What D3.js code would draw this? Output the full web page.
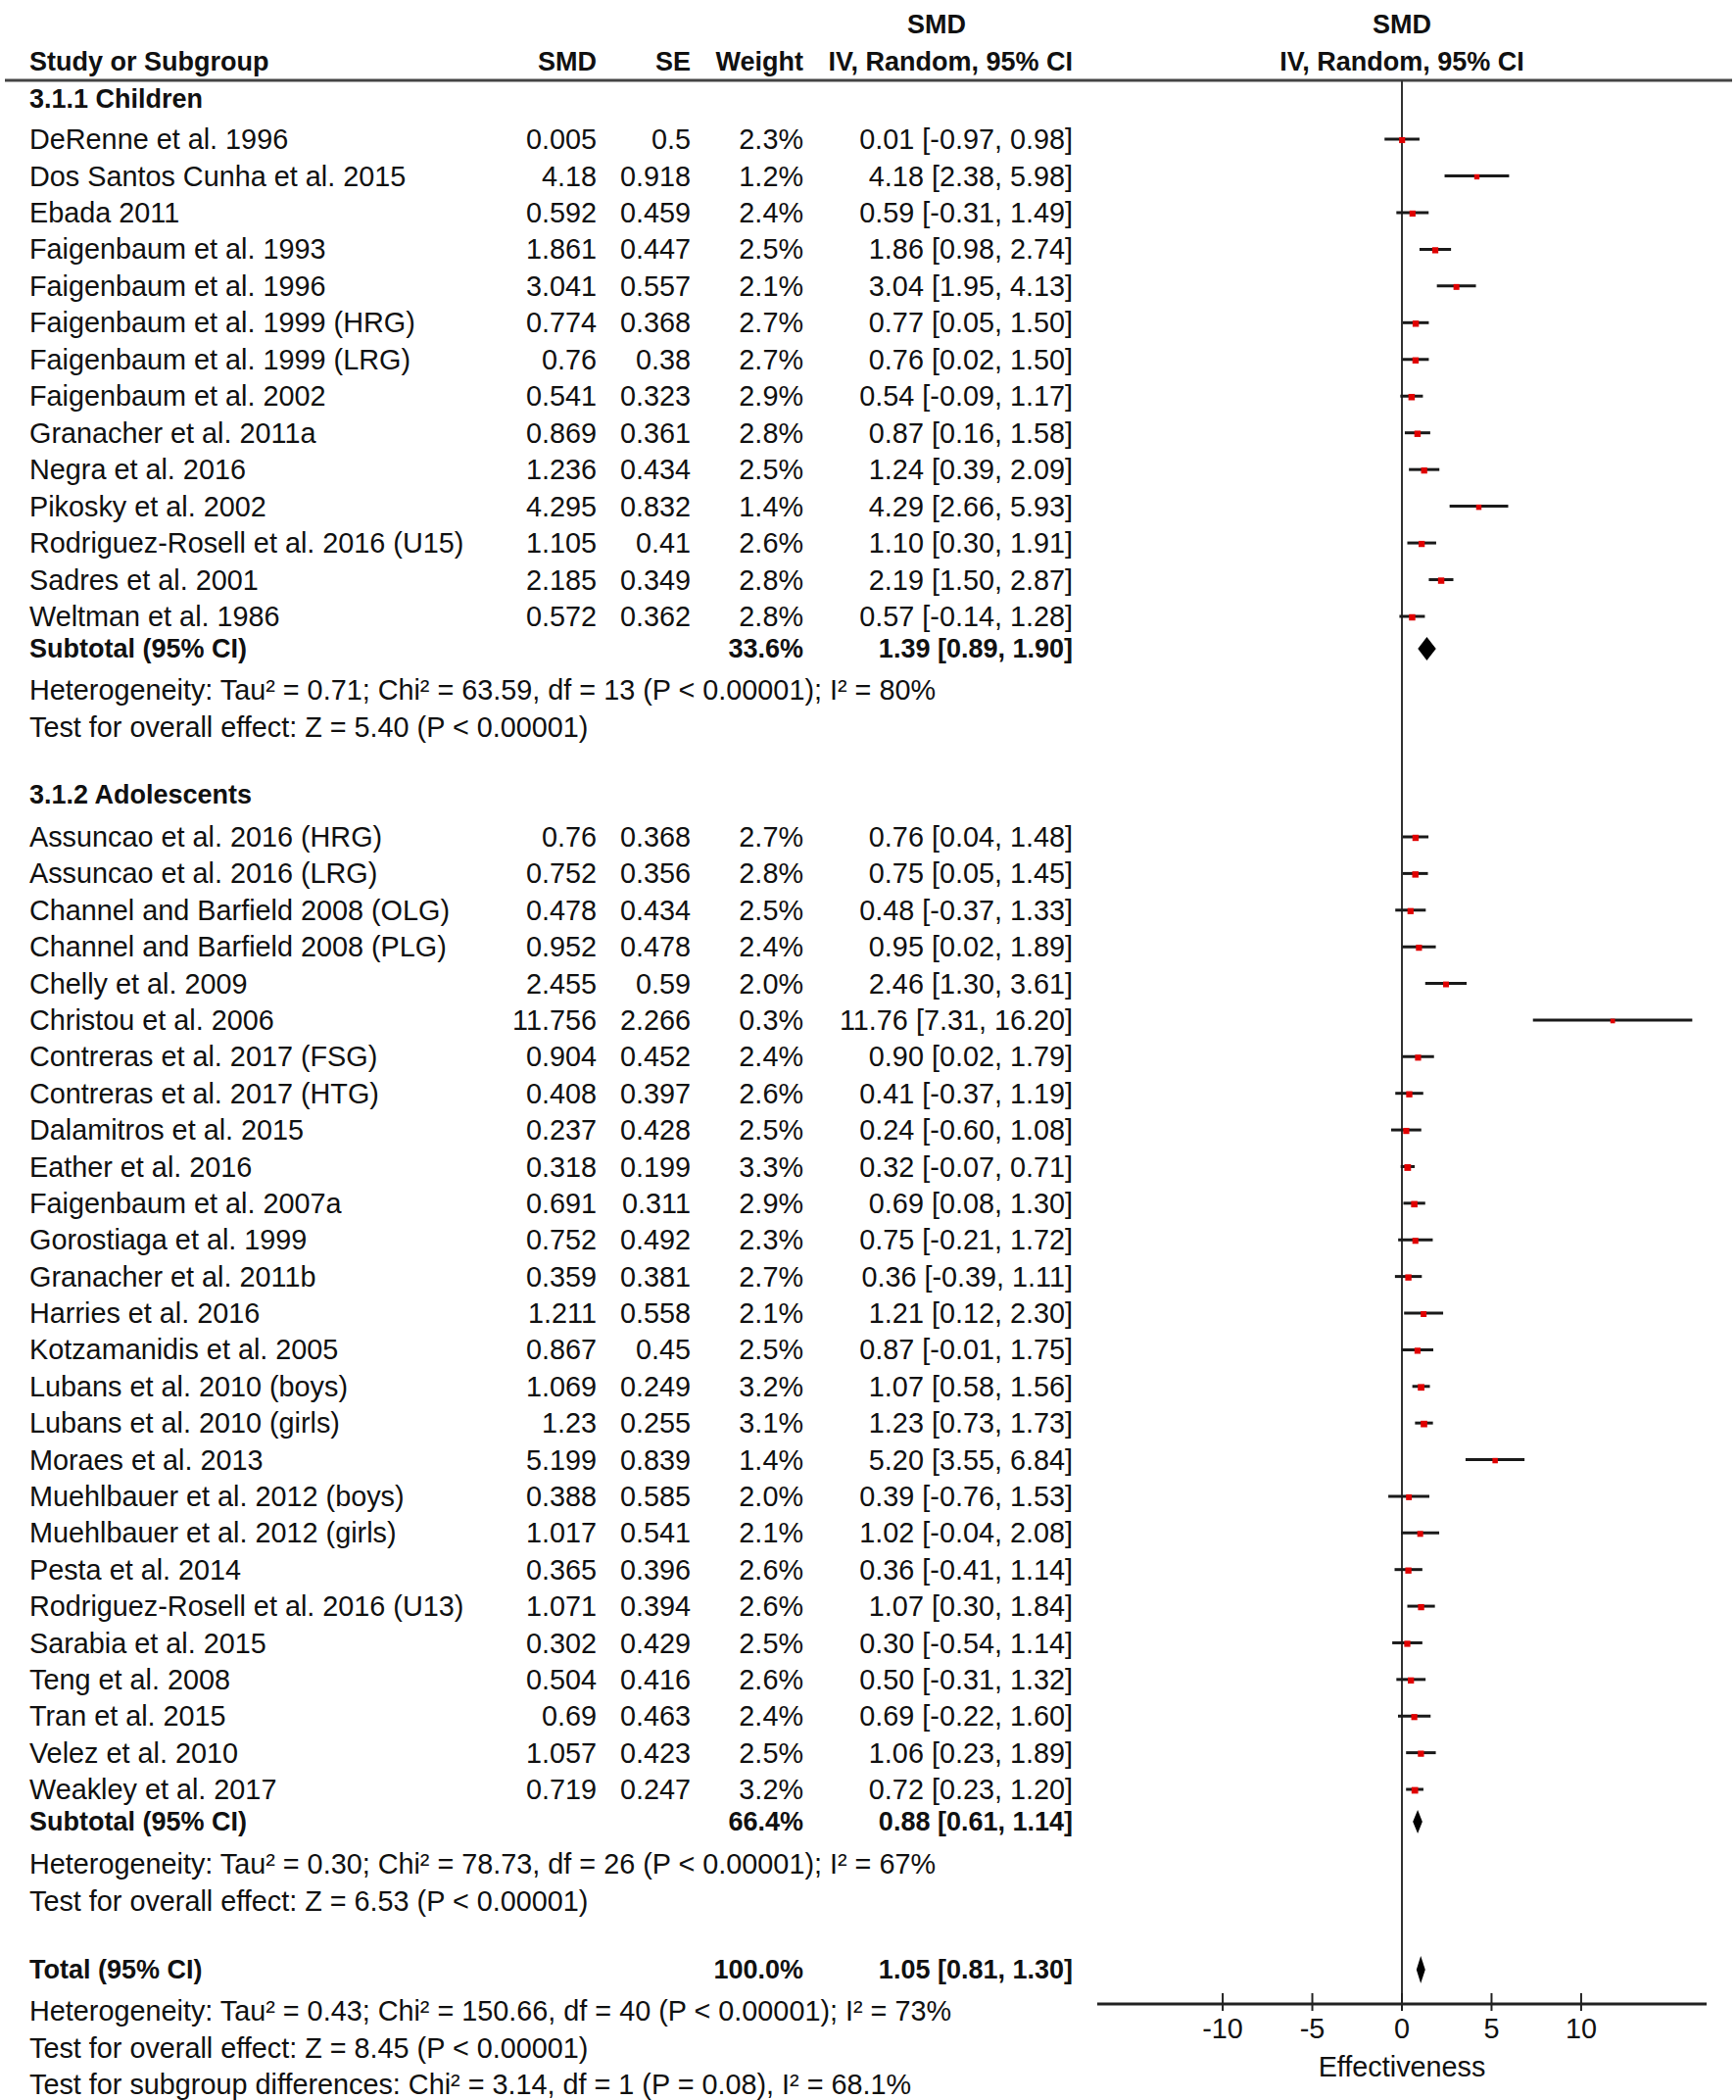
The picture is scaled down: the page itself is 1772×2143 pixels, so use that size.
<!DOCTYPE html>
<html>
<head>
<meta charset="utf-8">
<script src="https://cdn.jsdelivr.net/npm/d3@7"></script>
<style>
  body { margin: 0; background: #fff; }
  text { font-family: "Liberation Sans", Arial, sans-serif; font-size: 28.8px; fill: #111; }
  .b { font-weight: bold; font-size: 27px; }
</style>
</head>
<body>
<div id="chart"></div>
<script>
// Children
const childNames = ['DeRenne et al. 1996', 'Dos Santos Cunha et al. 2015', 'Ebada 2011', 'Faigenbaum et al. 1993',
  'Faigenbaum et al. 1996', 'Faigenbaum et al. 1999 (HRG)', 'Faigenbaum et al. 1999 (LRG)', 'Faigenbaum et al. 2002',
  'Granacher et al. 2011a', 'Negra et al. 2016', 'Pikosky et al. 2002', 'Rodriguez-Rosell et al. 2016 (U15)',
  'Sadres et al. 2001', 'Weltman et al. 1986'];
const childSmd = [0.005, 4.18, 0.592, 1.861, 3.041, 0.774, 0.76, 0.541, 0.869, 1.236, 4.295, 1.105, 2.185, 0.572];
const childSe = [0.5, 0.918, 0.459, 0.447, 0.557, 0.368, 0.38, 0.323, 0.361, 0.434, 0.832, 0.41, 0.349, 0.362];
const childWeight = [2.3, 1.2, 2.4, 2.5, 2.1, 2.7, 2.7, 2.9, 2.8, 2.5, 1.4, 2.6, 2.8, 2.8];
const childEst = [0.01, 4.18, 0.59, 1.86, 3.04, 0.77, 0.76, 0.54, 0.87, 1.24, 4.29, 1.10, 2.19, 0.57];
const childLo = [-0.97, 2.38, -0.31, 0.98, 1.95, 0.05, 0.02, -0.09, 0.16, 0.39, 2.66, 0.30, 1.50, -0.14];
const childHi = [0.98, 5.98, 1.49, 2.74, 4.13, 1.50, 1.50, 1.17, 1.58, 2.09, 5.93, 1.91, 2.87, 1.28];

// Adolescents
const adolNames = ['Assuncao et al. 2016 (HRG)', 'Assuncao et al. 2016 (LRG)', 'Channel and Barfield 2008 (OLG)',
  'Channel and Barfield 2008 (PLG)', 'Chelly et al. 2009', 'Christou et al. 2006', 'Contreras et al. 2017 (FSG)',
  'Contreras et al. 2017 (HTG)', 'Dalamitros et al. 2015', 'Eather et al. 2016', 'Faigenbaum et al. 2007a',
  'Gorostiaga et al. 1999', 'Granacher et al. 2011b', 'Harries et al. 2016', 'Kotzamanidis et al. 2005',
  'Lubans et al. 2010 (boys)', 'Lubans et al. 2010 (girls)', 'Moraes et al. 2013', 'Muehlbauer et al. 2012 (boys)',
  'Muehlbauer et al. 2012 (girls)', 'Pesta et al. 2014', 'Rodriguez-Rosell et al. 2016 (U13)', 'Sarabia et al. 2015',
  'Teng et al. 2008', 'Tran et al. 2015', 'Velez et al. 2010', 'Weakley et al. 2017'];
const adolSmd = [0.76, 0.752, 0.478, 0.952, 2.455, 11.756, 0.904, 0.408, 0.237, 0.318, 0.691, 0.752, 0.359, 1.211,
  0.867, 1.069, 1.23, 5.199, 0.388, 1.017, 0.365, 1.071, 0.302, 0.504, 0.69, 1.057, 0.719];
const adolSe = [0.368, 0.356, 0.434, 0.478, 0.59, 2.266, 0.452, 0.397, 0.428, 0.199, 0.311, 0.492, 0.381, 0.558,
  0.45, 0.249, 0.255, 0.839, 0.585, 0.541, 0.396, 0.394, 0.429, 0.416, 0.463, 0.423, 0.247];
const adolWeight = [2.7, 2.8, 2.5, 2.4, 2.0, 0.3, 2.4, 2.6, 2.5, 3.3, 2.9, 2.3, 2.7, 2.1, 2.5, 3.2, 3.1, 1.4, 2.0,
  2.1, 2.6, 2.6, 2.5, 2.6, 2.4, 2.5, 3.2];
const adolEst = [0.76, 0.75, 0.48, 0.95, 2.46, 11.76, 0.90, 0.41, 0.24, 0.32, 0.69, 0.75, 0.36, 1.21, 0.87, 1.07,
  1.23, 5.20, 0.39, 1.02, 0.36, 1.07, 0.30, 0.50, 0.69, 1.06, 0.72];
const adolLo = [0.04, 0.05, -0.37, 0.02, 1.30, 7.31, 0.02, -0.37, -0.60, -0.07, 0.08, -0.21, -0.39, 0.12, -0.01,
  0.58, 0.73, 3.55, -0.76, -0.04, -0.41, 0.30, -0.54, -0.31, -0.22, 0.23, 0.23];
const adolHi = [1.48, 1.45, 1.33, 1.89, 3.61, 16.20, 1.79, 1.19, 1.08, 0.71, 1.30, 1.72, 1.11, 2.30, 1.75, 1.56,
  1.73, 6.84, 1.53, 2.08, 1.14, 1.84, 1.14, 1.32, 1.60, 1.89, 1.20];

// pooled results: [weight, est, lo, hi]
const childSubtotal = [33.6, 1.39, 0.89, 1.90];
const adolSubtotal = [66.4, 0.88, 0.61, 1.14];
const overall = [100.0, 1.05, 0.81, 1.30];

const childNotes = ['Heterogeneity: Tau² = 0.71; Chi² = 63.59, df = 13 (P < 0.00001); I² = 80%',
  'Test for overall effect: Z = 5.40 (P < 0.00001)'];
const adolNotes = ['Heterogeneity: Tau² = 0.30; Chi² = 78.73, df = 26 (P < 0.00001); I² = 67%',
  'Test for overall effect: Z = 6.53 (P < 0.00001)'];
const totalNotes = ['Heterogeneity: Tau² = 0.43; Chi² = 150.66, df = 40 (P < 0.00001); I² = 73%',
  'Test for overall effect: Z = 8.45 (P < 0.00001)',
  'Test for subgroup differences: Chi² = 3.14, df = 1 (P = 0.08), I² = 68.1%'];

const xTicks = [-10, -5, 0, 5, 10];

const W = 1772, H = 2143;
const svg = d3.select('#chart').append('svg')
  .attr('width', W)
  .attr('height', H);

// columns
const colName = 30, colSmd = 609, colSe = 705, colWt = 820, colCi = 1095;

const x = d3.scaleLinear().domain([-17, 17]).range([1120, 1742]);
const yChild = d3.scaleLinear().domain([0, childNames.length - 1]).range([142, 629]);
const yAdol = d3.scaleLinear().domain([0, adolNames.length - 1]).range([854, 1826]);
const axisY = 2045;

function txt(xp, yp, s, anchor, bold) {
  svg.append('text')
    .attr('x', xp)
    .attr('y', yp)
    .attr('dy', '0.35em')
    .attr('text-anchor', anchor || 'start')
    .attr('class', bold ? 'b' : null)
    .text(s);
}

function ciLabel(e, l, h) {
  return e.toFixed(2) + ' [' + l.toFixed(2) + ', ' + h.toFixed(2) + ']';
}

// header
txt(956, 25, 'SMD', 'middle', true);
txt(1431, 25, 'SMD', 'middle', true);
txt(colName, 63, 'Study or Subgroup', 'start', true);
txt(colSmd, 63, 'SMD', 'end', true);
txt(colSe, 63, 'SE', 'end', true);
txt(colWt, 63, 'Weight', 'end', true);
txt(colCi, 63, 'IV, Random, 95% CI', 'end', true);
txt(1431, 63, 'IV, Random, 95% CI', 'middle', true);

svg.append('line')
  .attr('x1', 5).attr('x2', 1768)
  .attr('y1', 82).attr('y2', 82)
  .attr('stroke', '#444')
  .attr('stroke-width', 3);

// zero line
svg.append('line')
  .attr('x1', x(0)).attr('x2', x(0))
  .attr('y1', 82).attr('y2', axisY)
  .attr('stroke', '#333')
  .attr('stroke-width', 2);

function drawGroup(title, titleY, names, smd, se, wt, est, lo, hi, y) {
  txt(colName, titleY, title, 'start', true);
  names.forEach((n, i) => {
    const yy = y(i);
    txt(colName, yy, n);
    txt(colSmd, yy, String(smd[i]), 'end');
    txt(colSe, yy, String(se[i]), 'end');
    txt(colWt, yy, wt[i].toFixed(1) + '%', 'end');
    txt(colCi, yy, ciLabel(est[i], lo[i], hi[i]), 'end');
  });

  const rows = names.map((n, i) => ({ i, est: est[i], lo: lo[i], hi: hi[i], w: wt[i] }));
  const g = svg.append('g');
  g.selectAll('line.ci')
    .data(rows)
    .join('line')
    .attr('class', 'ci')
    .attr('x1', d => x(d.lo))
    .attr('x2', d => x(d.hi))
    .attr('y1', d => y(d.i))
    .attr('y2', d => y(d.i))
    .attr('stroke', '#1a1a1a')
    .attr('stroke-width', 3);
  g.selectAll('rect')
    .data(rows)
    .join('rect')
    .attr('x', d => x(d.est) - (4.5 + d.w * 0.7) / 2)
    .attr('y', d => y(d.i) - (4.5 + d.w * 0.7) / 2 + 1)
    .attr('width', d => 4.5 + d.w * 0.7)
    .attr('height', d => 4.5 + d.w * 0.7)
    .attr('fill', '#e00000');
}

function diamond(p, yy, h) {
  const pts = [[x(p[2]), yy], [x(p[1]), yy - h / 2], [x(p[3]), yy], [x(p[1]), yy + h / 2]];
  svg.append('path')
    .attr('d', d3.line()(pts) + 'Z')
    .attr('fill', '#000');
}

function pooledRow(label, p, yy, h) {
  txt(colName, yy, label, 'start', true);
  txt(colWt, yy, p[0].toFixed(1) + '%', 'end', true);
  txt(colCi, yy, ciLabel(p[1], p[2], p[3]), 'end', true);
  diamond(p, yy, h);
}

function notes(lines, y0) {
  lines.forEach((s, i) => txt(colName, y0 + i * 37.5, s));
}

drawGroup('3.1.1 Children', 101, childNames, childSmd, childSe, childWeight, childEst, childLo, childHi, yChild);
pooledRow('Subtotal (95% CI)', childSubtotal, 662, 24);
notes(childNotes, 704);

drawGroup('3.1.2 Adolescents', 811, adolNames, adolSmd, adolSe, adolWeight, adolEst, adolLo, adolHi, yAdol);
pooledRow('Subtotal (95% CI)', adolSubtotal, 1859, 24);
notes(adolNotes, 1902);

pooledRow('Total (95% CI)', overall, 2010, 28);
notes(totalNotes, 2052);

// x axis
svg.append('line')
  .attr('x1', x.range()[0]).attr('x2', x.range()[1])
  .attr('y1', axisY).attr('y2', axisY)
  .attr('stroke', '#222')
  .attr('stroke-width', 3);
svg.selectAll('line.tick')
  .data(xTicks)
  .join('line')
  .attr('class', 'tick')
  .attr('x1', d => x(d)).attr('x2', d => x(d))
  .attr('y1', axisY - 11).attr('y2', axisY + 7)
  .attr('stroke', '#222')
  .attr('stroke-width', 2);
svg.selectAll('text.tl')
  .data(xTicks)
  .join('text')
  .attr('class', 'tl')
  .attr('x', d => x(d))
  .attr('y', 2070)
  .attr('dy', '0.35em')
  .attr('text-anchor', 'middle')
  .text(d => d);
txt(x(0), 2109, 'Effectiveness', 'middle');
</script>
</body>
</html>
